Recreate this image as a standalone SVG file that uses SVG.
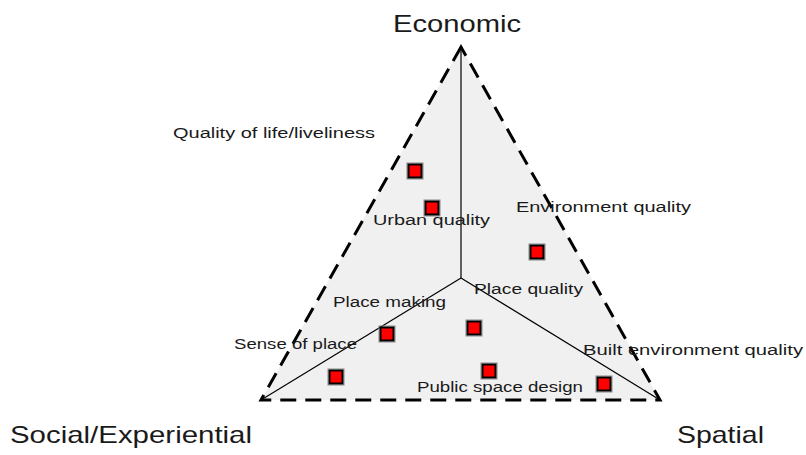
<svg xmlns="http://www.w3.org/2000/svg" width="806" height="455" viewBox="0 0 806 455">
<style>
.lbl{font-family:"Liberation Sans",Arial,sans-serif;font-size:15.5px;fill:#1a1a1a}
.big{font-family:"Liberation Sans",Arial,sans-serif;font-size:24px;fill:#1a1a1a}
.axis{stroke:#000;stroke-width:1.2;fill:none}
.mk{fill:#ff0000;stroke:#000;stroke-width:2}
.mko{fill:none;stroke:#888;stroke-width:1}
</style>
<defs>
<g id="m"><rect x="-8" y="-8" width="16" height="16" class="mko"/><rect x="-6.5" y="-6.5" width="13" height="13" class="mk"/></g>
</defs>
<rect width="806" height="455" fill="#fff"/>
<g id="triangle">
<polygon points="461,47 261,400 660,400" fill="#f0f0f0" stroke="#000" stroke-width="3" stroke-dasharray="16,9"/>
</g>
<g id="connectors">
<line x1="461" y1="47" x2="461" y2="278" class="axis"/>
<line x1="461" y1="278" x2="261" y2="400" class="axis"/>
<line x1="461" y1="278" x2="660" y2="400" class="axis"/>
</g>
<g id="markers">
<use href="#m" x="415" y="171"/>
<use href="#m" x="432" y="208"/>
<use href="#m" x="537" y="252"/>
<use href="#m" x="387" y="334"/>
<use href="#m" x="474" y="328"/>
<use href="#m" x="336" y="377"/>
<use href="#m" x="489" y="371"/>
<use href="#m" x="604" y="384"/>
</g>
<g id="labels">
<text id="economic" class="big" x="393" y="32" textLength="128" lengthAdjust="spacingAndGlyphs">Economic</text>
<text id="social" class="big" x="10" y="443" textLength="242" lengthAdjust="spacingAndGlyphs">Social/Experiential</text>
<text id="spatial" class="big" x="677" y="443" textLength="87" lengthAdjust="spacingAndGlyphs">Spatial</text>
<text class="lbl" x="173" y="138" textLength="202" lengthAdjust="spacingAndGlyphs">Quality of life/liveliness</text>
<text class="lbl" x="373" y="225" textLength="117" lengthAdjust="spacingAndGlyphs">Urban quality</text>
<text class="lbl" x="516" y="212" textLength="175" lengthAdjust="spacingAndGlyphs">Environment quality</text>
<text class="lbl" x="474" y="294" textLength="109" lengthAdjust="spacingAndGlyphs">Place quality</text>
<text class="lbl" x="333" y="307" textLength="113" lengthAdjust="spacingAndGlyphs">Place making</text>
<text class="lbl" x="234" y="349" textLength="123" lengthAdjust="spacingAndGlyphs">Sense of place</text>
<text class="lbl" x="583" y="355" textLength="220" lengthAdjust="spacingAndGlyphs">Built environment quality</text>
<text class="lbl" x="417" y="392" textLength="166" lengthAdjust="spacingAndGlyphs">Public space design</text>
</g>
</svg>
